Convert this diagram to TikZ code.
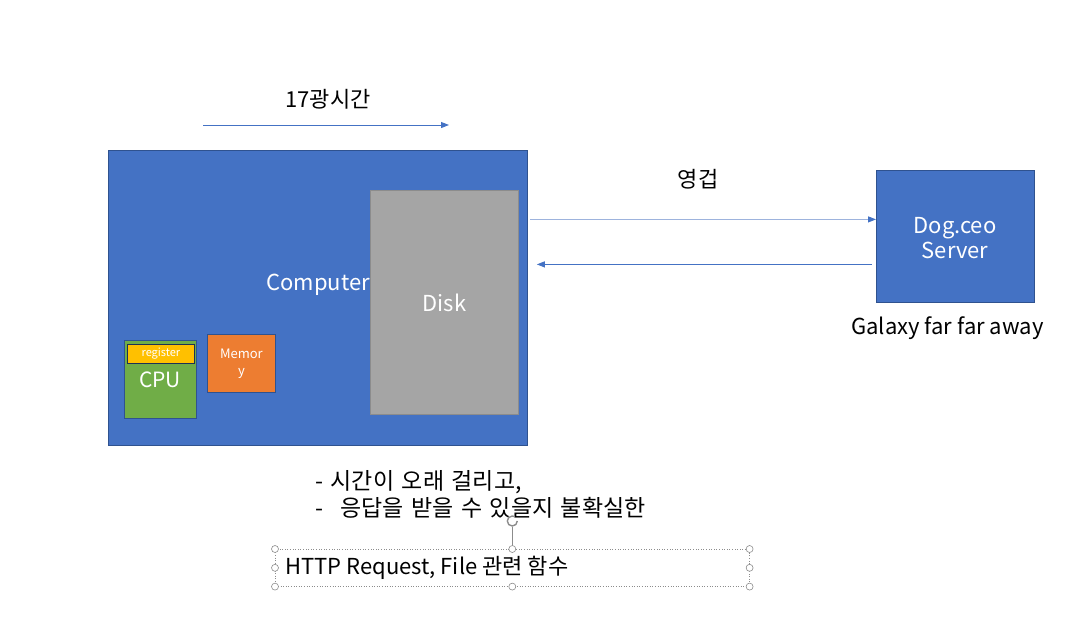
\documentclass[tikz,border=0pt]{standalone}
\usepackage{fontspec}
\setmainfont{Noto Sans CJK KR}
\usetikzlibrary{
  arrows.meta,
  positioning,
  calc
}
\definecolor{BoxBlue}{HTML}{4472C4}
\definecolor{EdgeBlue}{HTML}{2F528F}
\definecolor{PaleBlue}{HTML}{9DB3DD}
\definecolor{DiskGray}{HTML}{A5A5A5}
\definecolor{CpuGreen}{HTML}{70AD47}
\definecolor{RegGold}{HTML}{FFC000}
\definecolor{MemOrange}{HTML}{ED7D31}
\definecolor{HandleGray}{HTML}{8C8C8C}
\newcommand{\notefont}{\fontsize{23}{23}\selectfont\spaceskip=0.33em\relax}
\tikzset{
  % Filled block, placed by its top left corner
  blk/.style={
    rectangle, draw=EdgeBlue, fill=#1,
    line width=0.8pt, inner sep=0pt, anchor=north west
  },
  % White text inside a block
  wlbl/.style={
    text=white, align=center, inner sep=0pt,
    font=\fontsize{#1}{#1}\selectfont
  },
  % Black free text
  blbl/.style={
    text=black, align=left, inner sep=0pt,
    font=\fontsize{#1}{#1}\selectfont
  },
  % Korean note text, a bit wider spaced
  note/.style={
    text=black, inner sep=0pt, anchor=west
  },
  % Arrow
  arr/.style={
    -{Triangle[length=8pt,width=6pt,color=BoxBlue]},
    line width=1pt, draw=#1
  },
  % Selection handle of the text box
  hdl/.style={
    circle, draw=HandleGray, fill=white, line width=0.6pt,
    minimum size=7pt, inner sep=0pt
  }
}

\begin{document}
\begin{tikzpicture}[x=1pt, y=-1pt]
  \useasboundingbox (0,0) rectangle (1076,622);

  % Computer and its parts
  \node[blk=BoxBlue, minimum width=419, minimum height=295] (comp) at (108,150) {};
  \node[blk=DiskGray, draw=HandleGray, minimum width=148, minimum height=224] (disk) at (370,190) {};
  \node[wlbl=22] at (disk.center) {Disk};
  \node[wlbl=22] (complbl) at (318,285) {Computer};
  \node[blk=CpuGreen, minimum width=72, minimum height=78] (cpu) at (124,340) {};
  \node[blk=RegGold, draw=EdgeBlue!60!black, minimum width=67, minimum height=19] (reg) at (127,344) {};
  \node[wlbl=11] at (reg.center) {register};
  \node[wlbl=21] at (160,380) {CPU};
  \node[blk=MemOrange, minimum width=68, minimum height=58] (mem) at (207,334) {};
  \node[wlbl=13, font=\fontsize{13}{17}\selectfont] at (mem.center) {Memor\\y};

  % Light years
  \coordinate (lyA) at (203,125);
  \coordinate (lyB) at (449,125);
  \draw[arr=BoxBlue] (lyA) -- (lyB);
  \node[blbl=22] (ly) at (328,99) {17광시간};

  % Server
  \node[blk=BoxBlue, minimum width=158, minimum height=132] (srv) at (876,170) {};
  \node[wlbl=22, font=\fontsize{22}{25}\selectfont] at (955,238) {Dog.ceo\\Server};
  \node[blbl=22, below=14pt of srv, xshift=-8pt] (galaxy) {Galaxy far far away};

  % Request and response
  \coordinate (req) at ($(srv.west)+(0,-17)$);
  \coordinate (res) at ($(srv.west)+(-4,28)$);
  \node[blbl=22] (eon) at (698,179) {영겁};
  \draw[arr=PaleBlue] ([xshift=2pt]comp.east |- req) -- (req);
  \draw[arr=BoxBlue] (res) -- ([xshift=9pt]comp.east |- res);

  % Notes
  \node[note] (note1) at (315,482) {\notefont - 시간이 오래 걸리고,};
  \node[note] (note2) at (315,508) {\notefont -\hspace{17pt}응답을 받을 수 있을지 불확실한};

  % Selected text box
  \node[draw=HandleGray, dotted, line width=0.6pt, minimum width=474, minimum height=37,
        anchor=north west, inner sep=0pt] (fnbox) at (275,549) {};
  \node[blbl=22, anchor=west, right=10pt of fnbox.west] (fn) {HTTP Request, File 관련 함수};
  \coordinate (rot) at ($(fnbox.north)+(0,-28)$);
  \draw[HandleGray, line width=0.6pt] (fnbox.north) -- ($(rot)+(0,6)$);
  \draw[HandleGray, line width=1.4pt] ($(rot)+(5,0)$) arc[start angle=0, end angle=300, radius=5];
  \foreach \a in {north west, north, north east, east, south east, south, south west, west}
    \node[hdl] at (fnbox.\a) {};
\end{tikzpicture}
\end{document}
